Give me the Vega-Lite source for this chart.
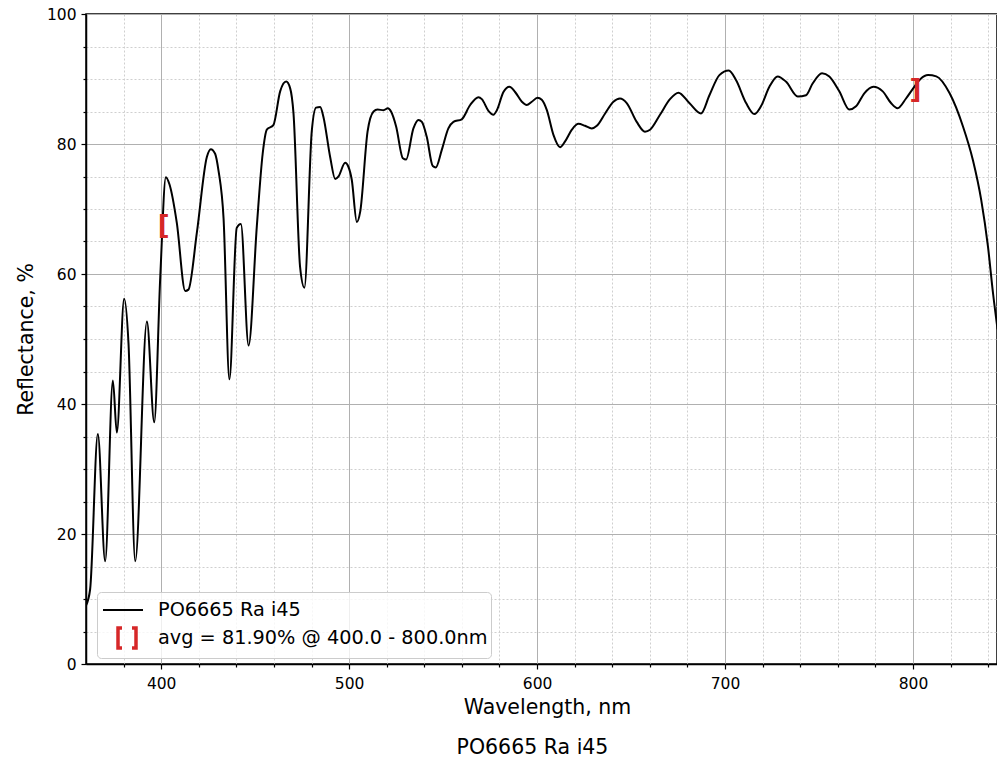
{
  "$schema": "https://vega.github.io/schema/vega-lite/v6.json",
  "autosize": "none",
  "width": 911,
  "height": 650,
  "padding": {"left": 86, "top": 14, "right": 0, "bottom": 98},
  "background": "white",
  "config": {
    "font": "DejaVu Sans",
    "view": {"stroke": "black", "strokeWidth": 1.5},
    "axis": {
      "labelFont": "DejaVu Sans",
      "labelFontSize": 15.5,
      "labelColor": "black",
      "titleFont": "DejaVu Sans",
      "titleFontSize": 20.5,
      "titleFontWeight": "normal",
      "titleColor": "black",
      "domainColor": "black",
      "domainWidth": 1.5,
      "tickColor": "black",
      "tickWidth": 1.2
    }
  },
  "title": {
    "text": "PO6665 Ra i45",
    "orient": "bottom",
    "anchor": "middle",
    "font": "DejaVu Sans",
    "fontSize": 20.5,
    "fontWeight": "normal",
    "color": "black",
    "offset": 20,
    "dx": -9
  },
  "datasets": {
    "curve": [
      {"w": 360, "r": 9.0},
      {"w": 362.2, "r": 11.5},
      {"w": 366.3, "r": 35.4},
      {"w": 370.2, "r": 15.8},
      {"w": 374.3, "r": 43.6},
      {"w": 376.4, "r": 35.6},
      {"w": 380.3, "r": 56.2},
      {"w": 382.6, "r": 49.4},
      {"w": 386.2, "r": 15.8},
      {"w": 392.4, "r": 52.7},
      {"w": 396.3, "r": 37.2},
      {"w": 399.5, "r": 59.5},
      {"w": 402.5, "r": 74.9},
      {"w": 404.4, "r": 73.8},
      {"w": 408.3, "r": 67.9},
      {"w": 412.8, "r": 57.4},
      {"w": 414.5, "r": 57.6},
      {"w": 419.0, "r": 66.4},
      {"w": 424.3, "r": 78.0},
      {"w": 426.4, "r": 79.2},
      {"w": 428.7, "r": 78.5},
      {"w": 430.5, "r": 75.9},
      {"w": 433.2, "r": 68.5},
      {"w": 436.3, "r": 43.8},
      {"w": 440.2, "r": 67.1},
      {"w": 442.4, "r": 67.7},
      {"w": 446.5, "r": 49.0},
      {"w": 450.9, "r": 67.4},
      {"w": 454.0, "r": 78.5},
      {"w": 456.2, "r": 82.2},
      {"w": 459.7, "r": 82.9},
      {"w": 463.3, "r": 88.1},
      {"w": 466.5, "r": 89.6},
      {"w": 468.6, "r": 88.6},
      {"w": 470.4, "r": 84.7},
      {"w": 473.9, "r": 61.1},
      {"w": 476.2, "r": 57.9},
      {"w": 480.1, "r": 81.9},
      {"w": 482.4, "r": 85.6},
      {"w": 484.6, "r": 85.7},
      {"w": 486.3, "r": 84.2},
      {"w": 489.9, "r": 78.0},
      {"w": 492.6, "r": 74.6},
      {"w": 494.3, "r": 75.0},
      {"w": 497.9, "r": 77.1},
      {"w": 499.6, "r": 76.5},
      {"w": 501.4, "r": 74.5},
      {"w": 504.1, "r": 68.0},
      {"w": 505.9, "r": 69.6},
      {"w": 509.8, "r": 81.9},
      {"w": 513.0, "r": 85.0},
      {"w": 515.1, "r": 85.3},
      {"w": 518.3, "r": 85.2},
      {"w": 520.6, "r": 85.5},
      {"w": 522.3, "r": 85.0},
      {"w": 525.0, "r": 82.7},
      {"w": 528.6, "r": 77.8},
      {"w": 530.3, "r": 77.6},
      {"w": 534.2, "r": 82.4},
      {"w": 536.9, "r": 83.7},
      {"w": 538.7, "r": 83.4},
      {"w": 541.3, "r": 81.1},
      {"w": 544.5, "r": 76.6},
      {"w": 546.1, "r": 76.4},
      {"w": 549.3, "r": 79.1},
      {"w": 552.8, "r": 82.4},
      {"w": 555.5, "r": 83.4},
      {"w": 559.9, "r": 83.8},
      {"w": 564.4, "r": 86.0},
      {"w": 568.8, "r": 87.2},
      {"w": 570.6, "r": 86.9},
      {"w": 574.1, "r": 85.1},
      {"w": 576.8, "r": 84.5},
      {"w": 578.6, "r": 85.2},
      {"w": 582.1, "r": 88.0},
      {"w": 585.3, "r": 88.8},
      {"w": 588.3, "r": 88.0},
      {"w": 591.9, "r": 86.5},
      {"w": 594.5, "r": 86.0},
      {"w": 597.2, "r": 86.5},
      {"w": 600.2, "r": 87.1},
      {"w": 602.5, "r": 86.8},
      {"w": 605.2, "r": 85.2},
      {"w": 608.7, "r": 81.4},
      {"w": 612.2, "r": 79.5},
      {"w": 614.9, "r": 80.4},
      {"w": 618.5, "r": 82.2},
      {"w": 622.0, "r": 83.1},
      {"w": 625.5, "r": 82.8},
      {"w": 629.1, "r": 82.4},
      {"w": 631.8, "r": 82.8},
      {"w": 636.2, "r": 84.7},
      {"w": 640.6, "r": 86.5},
      {"w": 644.1, "r": 87.0},
      {"w": 647.7, "r": 86.3},
      {"w": 653.0, "r": 83.4},
      {"w": 657.4, "r": 81.9},
      {"w": 660.1, "r": 82.2},
      {"w": 665.4, "r": 84.5},
      {"w": 670.7, "r": 86.9},
      {"w": 675.2, "r": 87.9},
      {"w": 681.0, "r": 86.3},
      {"w": 687.2, "r": 84.7},
      {"w": 691.7, "r": 87.5},
      {"w": 697.0, "r": 90.6},
      {"w": 702.0, "r": 91.3},
      {"w": 705.9, "r": 89.8},
      {"w": 711.2, "r": 86.3},
      {"w": 715.6, "r": 84.6},
      {"w": 719.1, "r": 85.8},
      {"w": 723.6, "r": 88.8},
      {"w": 728.0, "r": 90.4},
      {"w": 732.4, "r": 89.6},
      {"w": 738.7, "r": 87.3},
      {"w": 743.1, "r": 87.5},
      {"w": 746.6, "r": 89.3},
      {"w": 751.6, "r": 90.9},
      {"w": 755.5, "r": 90.4},
      {"w": 760.8, "r": 88.1},
      {"w": 766.1, "r": 85.3},
      {"w": 769.7, "r": 85.8},
      {"w": 774.1, "r": 87.8},
      {"w": 778.9, "r": 88.8},
      {"w": 783.9, "r": 88.1},
      {"w": 788.3, "r": 86.3},
      {"w": 791.8, "r": 85.5},
      {"w": 796.3, "r": 87.0},
      {"w": 800.2, "r": 88.6},
      {"w": 804.0, "r": 90.0},
      {"w": 808.0, "r": 90.6},
      {"w": 812.4, "r": 90.4},
      {"w": 819.5, "r": 87.8},
      {"w": 826.6, "r": 82.7},
      {"w": 831.9, "r": 77.5},
      {"w": 836.3, "r": 71.4},
      {"w": 839.9, "r": 64.2},
      {"w": 842.6, "r": 57.0},
      {"w": 845.0, "r": 51.5}
    ],
    "markers": [
      {"w": 400, "r": 67.5, "sym": "["},
      {"w": 800, "r": 88.4, "sym": "]"}
    ]
  },
  "layer": [
    {
      "data": {"name": "curve"},
      "transform": [{"calculate": "'PO6665 Ra i45'", "as": "series"}],
      "mark": {"type": "line", "strokeWidth": 2, "interpolate": "monotone", "clip": true},
      "encoding": {
        "x": {
          "field": "w",
          "type": "quantitative",
          "scale": {"domain": [360, 844.7], "nice": false, "zero": false},
          "axis": {
            "title": "Wavelength, nm",
            "titleX": 461,
            "titlePadding": 6,
            "tickCount": 200,
            "values": [380, 400, 420, 440, 460, 480, 500, 520, 540, 560, 580, 600, 620, 640, 660, 680, 700, 720, 740, 760, 780, 800, 820, 840],
            "labelExpr": "indexof([400, 500, 600, 700, 800], round(datum.value)) >= 0 ? format(round(datum.value), 'd') : ''",
            "labelOverlap": false,
            "labelFlush": false,
            "labelPadding": 7,
            "grid": true,
            "gridColor": {"condition": {"test": "indexof([400, 500, 600, 700, 800], round(datum.value)) >= 0", "value": "#b0b0b0"}, "value": "#cfcfcf"},
            "gridDash": {"condition": {"test": "indexof([400, 500, 600, 700, 800], round(datum.value)) >= 0", "value": []}, "value": [2, 2]},
            "gridWidth": 1,
            "tickSize": {"condition": {"test": "indexof([400, 500, 600, 700, 800], round(datum.value)) >= 0", "value": 5}, "value": 3}
          }
        },
        "y": {
          "field": "r",
          "type": "quantitative",
          "scale": {"domain": [0, 100], "nice": false},
          "axis": {
            "title": "Reflectance, %",
            "titlePadding": 10,
            "tickCount": 200,
            "values": [0, 5, 10, 15, 20, 25, 30, 35, 40, 45, 50, 55, 60, 65, 70, 75, 80, 85, 90, 95, 100],
            "labelExpr": "round(datum.value) % 20 === 0 ? format(round(datum.value), 'd') : ''",
            "labelOverlap": false,
            "labelFlush": false,
            "labelPadding": 5,
            "grid": true,
            "gridColor": {"condition": {"test": "round(datum.value) % 20 === 0", "value": "#b0b0b0"}, "value": "#cfcfcf"},
            "gridDash": {"condition": {"test": "round(datum.value) % 20 === 0", "value": []}, "value": [2, 2]},
            "gridWidth": 1,
            "tickSize": {"condition": {"test": "round(datum.value) % 20 === 0", "value": 5}, "value": 3}
          }
        },
        "color": {
          "field": "series",
          "type": "nominal",
          "scale": {"domain": ["PO6665 Ra i45", "avg = 81.90% @ 400.0 - 800.0nm"], "range": ["black", "#d62728"]},
          "legend": {
            "title": null,
            "orient": "none",
            "legendX": 11,
            "legendY": 578,
            "fillColor": "rgba(255,255,255,0.8)",
            "strokeColor": "#cccccc",
            "cornerRadius": 4,
            "padding": 3,
            "labelFont": "DejaVu Sans",
            "labelFontSize": 19.3,
            "labelColor": "black",
            "labelLimit": 0,
            "labelOffset": 15,
            "symbolSize": 900,
            "symbolStrokeWidth": 2,
            "rowPadding": 0,
            "encode": {
              "symbols": {
                "update": {
                  "x": {"signal": "datum.value === 'PO6665 Ra i45' ? 23 : 27"},
                  "y": {"value": 15},
                  "size": {"value": 1600},
                  "shape": {"signal": "datum.value === 'PO6665 Ra i45' ? 'stroke' : 'M-0.25,-0.5H-0.45V0.5H-0.25M0.25,-0.5H0.45V0.5H0.25'"},
                  "stroke": {"signal": "datum.value === 'PO6665 Ra i45' ? 'black' : '#d62728'"},
                  "strokeWidth": {"signal": "datum.value === 'PO6665 Ra i45' ? 2 : 3.5"},
                  "fill": {"value": "transparent"}
                }
              },
              "labels": {
                "update": {
                  "x": {"value": 58},
                  "y": {"value": 15},
                  "baseline": {"value": "middle"}
                }
              }
            }
          }
        }
      }
    },
    {
      "data": {"name": "markers"},
      "mark": {"type": "text", "font": "DejaVu Sans", "fontWeight": "bold", "fontSize": 26, "color": "#d62728", "align": "center", "baseline": "middle", "dx": 2.5, "dy": 1},
      "encoding": {
        "x": {"field": "w", "type": "quantitative"},
        "y": {"field": "r", "type": "quantitative"},
        "text": {"field": "sym"}
      }
    }
  ]
}
